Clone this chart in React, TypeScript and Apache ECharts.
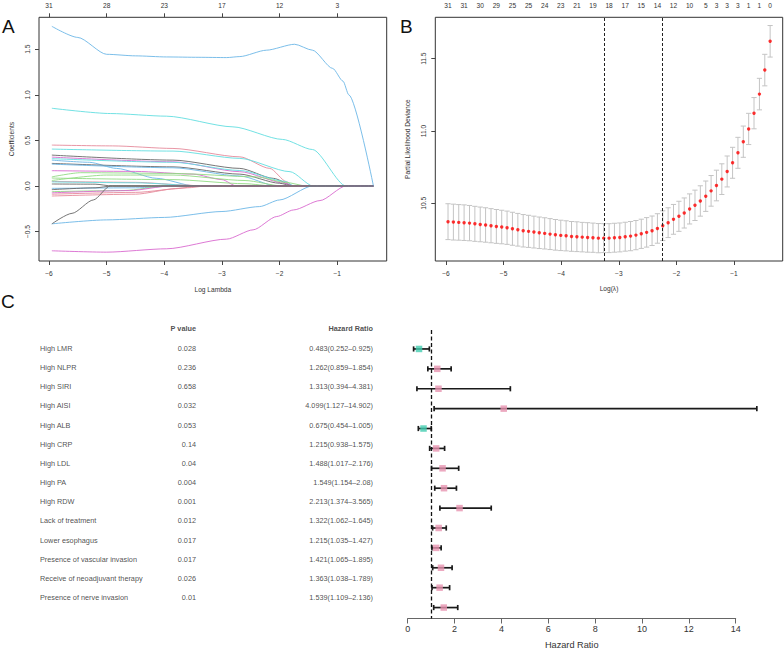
import React, { useEffect, useRef } from "react";
import * as echarts from "echarts";

const FONT = "'Liberation Sans', Arial, Helvetica, sans-serif";

// ---------------- Panel A : coefficient paths ----------------
const aTickValues = [-6, -5, -4, -3, -2, -1];
const aTopLabels = ["31", "28", "23", "17", "12", "3"];
const aYTicks = [-0.5, 0, 0.5, 1.0, 1.5];

const coefBlueTop = [[-5.95, 1.752], [-5.5, 1.63], [-5.0, 1.445], [-4.5, 1.428], [-3.96, 1.416], [-3.4, 1.412], [-2.92, 1.409], [-2.69, 1.42], [-2.23, 1.49], [-1.74, 1.555], [-1.43, 1.49], [-1.08, 1.29], [-0.9, 1.15], [-0.8, 1.0], [-0.373, 0]];
const coefCyanTop = [[-5.95, 0.853], [-4.93, 0.795], [-3.96, 0.766], [-2.81, 0.649], [-1.95, 0.511], [-1.43, 0.4], [-0.85, 0], [-0.373, 0]];
const coefBlueNeg = [[-5.95, -0.415], [-5.0, -0.372], [-4.0, -0.345], [-3.0, -0.28], [-2.35, -0.226], [-2.0, -0.153], [-1.43, 0], [-0.373, 0]];
const coefMagentaNeg = [[-5.95, -0.711], [-5.0, -0.726], [-3.96, -0.689], [-2.92, -0.583], [-2.46, -0.481], [-2.05, -0.335], [-1.76, -0.263], [-1.3, -0.16], [-0.85, 0], [-0.373, 0]];
const coefBlackNeg = [[-5.95, -0.416], [-5.6, -0.3], [-5.23, -0.153], [-4.94, 0], [-0.373, 0]];
const coefPink1 = [[-5.95, 0.449], [-4.9, 0.44], [-3.85, 0.412], [-2.69, 0.32], [-2.17, 0.193], [-1.88, 0.047], [-1.77, 0], [-0.373, 0]];
const coefCyan2 = [[-5.95, 0.405], [-3.85, 0.383], [-2.69, 0.303], [-1.82, 0.157], [-1.42, 0], [-0.373, 0]];
const coefBlack1 = [[-5.95, 0.339], [-3.85, 0.284], [-2.69, 0.193], [-2.11, 0.084], [-1.75, 0], [-0.373, 0]];
const coefMagenta1 = [[-5.95, 0.317], [-3.85, 0.266], [-2.69, 0.157], [-1.9, 0.03], [-1.77, 0], [-0.373, 0]];
const coefBlue1 = [[-5.95, 0.284], [-5.3, 0.26], [-4.83, 0.193], [-4.13, 0.084], [-3.47, 0], [-0.373, 0]];
const coefBlack2 = [[-5.95, 0.248], [-3.85, 0.21], [-2.69, 0.13], [-2.0, 0.03], [-1.77, 0], [-0.373, 0]];
const coefBlue2 = [[-5.95, 0.24], [-3.85, 0.2], [-2.69, 0.11], [-2.05, 0], [-0.373, 0]];
const coefCyan3 = [[-5.95, 0.3], [-3.85, 0.26], [-2.69, 0.17], [-1.9, 0.05], [-1.75, 0], [-0.373, 0]];
const coefMagenta2 = [[-5.95, 0.168], [-4.5, 0.16], [-3.5, 0.13], [-3.0, 0.07], [-2.75, 0], [-0.373, 0]];
const coefGreen1 = [[-5.95, 0.1], [-5.45, 0.146], [-3.85, 0.138], [-2.4, 0.1], [-1.9, 0.04], [-1.53, 0], [-0.373, 0]];
const coefGreen2 = [[-5.95, 0.087], [-3.85, 0.07], [-2.6, 0.025], [-2.11, 0], [-0.373, 0]];
const coefPink2 = [[-5.95, 0.05], [-4.5, 0.04], [-3.6, 0.01], [-3.4, 0], [-0.373, 0]];
const coefBlack3 = [[-5.95, 0.022], [-5.2, 0.02], [-4.9, 0], [-0.373, 0]];
const coefCyan4 = [[-5.95, 0.045], [-4.5, 0.035], [-3.3, 0], [-0.373, 0]];
const coefGreen3 = [[-5.95, 0.06], [-5.0, 0.12], [-3.85, 0.12], [-2.6, 0.06], [-1.95, 0], [-0.373, 0]];
const coefBlue3 = [[-5.95, -0.026], [-4.5, -0.02], [-3.8, 0], [-0.373, 0]];
const coefGreen4 = [[-5.95, -0.062], [-4.7, -0.05], [-3.96, 0], [-0.373, 0]];
const coefPink3 = [[-5.95, -0.09], [-4.5, -0.07], [-3.6, -0.02], [-3.27, 0], [-0.373, 0]];
const coefPink4 = [[-5.95, -0.11], [-4.5, -0.09], [-3.8, -0.03], [-3.4, 0], [-0.373, 0]];
const coefMagenta3 = [[-5.95, -0.075], [-4.6, -0.05], [-3.9, 0], [-0.373, 0]];
const coefBlack4 = [[-5.95, -0.04], [-5.2, -0.02], [-4.9, 0], [-0.373, 0]];

const coefPaths = [
  coefPink1, coefCyan2, coefBlack1, coefMagenta1, coefBlue1, coefBlack2, coefBlue2, coefCyan3,
  coefMagenta2, coefGreen1, coefGreen2, coefPink2, coefBlack3, coefCyan4, coefGreen3,
  coefBlue3, coefGreen4, coefPink3, coefPink4, coefMagenta3,
  coefBlueTop, coefCyanTop, coefBlueNeg, coefMagentaNeg, coefBlackNeg, coefBlack4,
];
const coefColorIdx = [1, 4, 0, 5, 3, 0, 3, 4, 5, 2, 2, 1, 0, 4, 2, 3, 2, 1, 1, 5, 3, 4, 3, 5, 0, 0];
const palette = ["#666666", "#E58A9B", "#92DA83", "#6CB7E6", "#62DEE0", "#D96ACF"];

// ---------------- Panel B : cross-validation ----------------
const cvLogLambda = [
  -5.965, -5.872, -5.779, -5.686, -5.592, -5.499, -5.406, -5.313, -5.219, -5.126,
  -5.033, -4.94, -4.847, -4.753, -4.66, -4.567, -4.474, -4.381, -4.287, -4.194,
  -4.101, -4.008, -3.915, -3.821, -3.728, -3.635, -3.542, -3.449, -3.355, -3.262,
  -3.169, -3.076, -2.983, -2.889, -2.796, -2.703, -2.61, -2.517, -2.423, -2.33,
  -2.237, -2.144, -2.051, -1.957, -1.864, -1.771, -1.678, -1.585, -1.491, -1.398,
  -1.305, -1.212, -1.119, -1.025, -0.932, -0.839, -0.746, -0.653, -0.559, -0.466,
  -0.373,
];
const cvMean = [
  10.373, 10.37, 10.368, 10.366, 10.363, 10.358, 10.354, 10.35, 10.345, 10.34,
  10.336, 10.331, 10.324, 10.317, 10.31, 10.306, 10.301, 10.296, 10.292, 10.287,
  10.282, 10.278, 10.275, 10.271, 10.269, 10.266, 10.264, 10.262, 10.259, 10.259,
  10.259, 10.262, 10.264, 10.269, 10.273, 10.28, 10.289, 10.299, 10.31, 10.326,
  10.345, 10.366, 10.389, 10.41, 10.433, 10.461, 10.486, 10.516, 10.549, 10.586,
  10.623, 10.667, 10.72, 10.78, 10.849, 10.926, 11.014, 11.123, 11.255, 11.421,
  11.62,
];
const cvSE = [
  0.124, 0.124, 0.123, 0.123, 0.122, 0.121, 0.12, 0.119, 0.118, 0.117,
  0.116, 0.115, 0.114, 0.113, 0.112, 0.111, 0.11, 0.109, 0.108, 0.107,
  0.106, 0.105, 0.104, 0.103, 0.103, 0.102, 0.102, 0.101, 0.101, 0.1,
  0.1, 0.1, 0.1, 0.1, 0.101, 0.101, 0.101, 0.102, 0.102, 0.102,
  0.103, 0.103, 0.103, 0.104, 0.104, 0.104, 0.105, 0.105, 0.105, 0.106,
  0.106, 0.106, 0.107, 0.107, 0.107, 0.108, 0.108, 0.108, 0.109, 0.109,
  0.109,
];
const cvTopIdx = [0, 3, 6, 9, 12, 15, 18, 21, 24, 27, 30, 33, 36, 39, 42, 45, 48, 50, 52, 54, 56, 58, 60];
const cvTopNz = [31, 31, 30, 29, 25, 25, 24, 23, 21, 19, 18, 17, 15, 14, 12, 10, 5, 3, 3, 3, 1, 1, 0];
const lambdaMinIdx = 29;
const lambda1seIdx = 40;
const bYTicks = [10.5, 11.0, 11.5];

// ---------------- Panel C : forest plot ----------------
const variables = [
  "High LMR", "High NLPR", "High SIRI", "High AISI", "High ALB", "High CRP", "High LDL",
  "High PA", "High RDW", "Lack of treatment", "Lower esophagus",
  "Presence of vascular invasion", "Receive of neoadjuvant therapy", "Presence of nerve invasion",
];
const pValues = ["0.028", "0.236", "0.658", "0.032", "0.053", "0.14", "0.04", "0.004", "0.001", "0.012", "0.017", "0.017", "0.026", "0.01"];
const hr = [0.483, 1.262, 1.313, 4.099, 0.675, 1.215, 1.488, 1.549, 2.213, 1.322, 1.215, 1.421, 1.363, 1.539];
const hrLow = [0.252, 0.859, 0.394, 1.127, 0.454, 0.938, 1.017, 1.154, 1.374, 1.062, 1.035, 1.065, 1.038, 1.109];
const hrHigh = [0.925, 1.854, 4.381, 14.902, 1.005, 1.575, 2.176, 2.08, 3.565, 1.645, 1.427, 1.895, 1.789, 2.136];
const hrText = ["0.483", "1.262", "1.313", "4.099", "0.675", "1.215", "1.488", "1.549", "2.213", "1.322", "1.215", "1.421", "1.363", "1.539"];
const hrTextLow = ["0.252", "0.859", "0.394", "1.127", "0.454", "0.938", "1.017", "1.154", "1.374", "1.062", "1.035", "1.065", "1.038", "1.109"];
const hrTextHigh = ["0.925", "1.854", "4.381", "14.902", "1.005", "1.575", "2.176", "2.08", "3.565", "1.645", "1.427", "1.895", "1.789", "2.136"];

const minus = (v: number, digits?: number) => {
  const s = digits === undefined ? String(Math.abs(v)) : Math.abs(v).toFixed(digits);
  return v < -1e-9 ? "\u2212" + s : s;
};

export default function App() {
  const ref = useRef<HTMLDivElement>(null);
  useEffect(() => {
    if (!ref.current) return;
    const chart = echarts.init(ref.current, null, { renderer: "svg" });

    const axisTxt = { fontFamily: FONT, color: "#333", fontSize: 6.6 };
    const boxAxisLine = { show: false, onZero: false };
    const tickStyle = { show: true, length: 4, lineStyle: { color: "#444", width: 1 } };

    const topBVals = cvTopIdx.map((i) => cvLogLambda[i]);

    const tRow0 = 348.3;
    const tStep = 19.18;
    const fRow0 = 349;
    const fStep = 19.94;
    const fGridTop = fRow0 - 0.95 * fStep;
    const fGridH = 14.5 * fStep;

    const labelSeries = (x: number, texts: string[], pos: "left" | "right", bold = false, rowOffset = 0) => ({
      type: "scatter",
      xAxisIndex: 5,
      yAxisIndex: 3,
      symbolSize: 0,
      silent: true,
      itemStyle: { color: "#222" },
      data: texts.map((_t, i) => [x, i + rowOffset]),
      label: {
        show: true,
        position: pos,
        distance: 0,
        formatter: (p: any) => texts[p.dataIndex],
        fontFamily: FONT,
        fontSize: 7.3,
        fontWeight: bold ? "bold" : "normal",
        color: "#222",
      },
    });

    const option: any = {
      animation: false,
      backgroundColor: "#fff",
      grid: [
        { left: 39, top: 17.3, width: 347.7, height: 243.7, show: true, borderColor: "#333", borderWidth: 1, backgroundColor: "transparent" },
        { left: 435.3, top: 17.3, width: 347.4, height: 243.7, show: true, borderColor: "#333", borderWidth: 1, backgroundColor: "transparent" },
        { left: 407.7, top: fGridTop, width: 328, height: fGridH, show: false },
        { left: 0, top: tRow0 - 1.5 * tStep, width: 784, height: 16 * tStep, show: false },
      ],
      xAxis: [
        {
          gridIndex: 0, type: "value", min: -6.173, max: -0.143, position: "bottom",
          axisLine: boxAxisLine, splitLine: { show: false },
          axisTick: { ...tickStyle, customValues: aTickValues },
          axisLabel: { ...axisTxt, margin: 9, customValues: aTickValues, formatter: (v: number) => minus(v) },
          name: "Log Lambda", nameLocation: "middle", nameGap: 24.5, nameTextStyle: { ...axisTxt },
        },
        {
          gridIndex: 0, type: "value", min: -6.173, max: -0.143, position: "top",
          axisLine: boxAxisLine, splitLine: { show: false },
          axisTick: { ...tickStyle, customValues: aTickValues },
          axisLabel: {
            ...axisTxt, margin: 8, customValues: aTickValues,
            formatter: (v: number) => {
              const k = aTickValues.findIndex((t) => Math.abs(t - v) < 1e-6);
              return k >= 0 ? aTopLabels[k] : "";
            },
          },
        },
        {
          gridIndex: 1, type: "value", min: -6.186, max: -0.155, position: "bottom",
          axisLine: boxAxisLine, splitLine: { show: false },
          axisTick: { ...tickStyle, customValues: aTickValues },
          axisLabel: { ...axisTxt, margin: 9, customValues: aTickValues, formatter: (v: number) => minus(v) },
          name: "Log(\u03bb)", nameLocation: "middle", nameGap: 24, nameTextStyle: { ...axisTxt },
        },
        {
          gridIndex: 1, type: "value", min: -6.186, max: -0.155, position: "top",
          axisLine: boxAxisLine, splitLine: { show: false },
          axisTick: { show: false },
          axisLabel: {
            ...axisTxt, margin: 8, customValues: topBVals,
            formatter: (v: number) => {
              const k = topBVals.findIndex((t) => Math.abs(t - v) < 1e-6);
              return k >= 0 ? String(cvTopNz[k]) : "";
            },
          },
        },
        {
          gridIndex: 2, type: "value", min: 0, max: 14, interval: 2, position: "bottom",
          axisLine: { show: true, onZero: false, lineStyle: { color: "#666", width: 1 } },
          axisTick: { show: true, length: 5, lineStyle: { color: "#666", width: 1 } },
          splitLine: { show: false },
          axisLabel: { fontFamily: FONT, fontSize: 9, color: "#333", margin: 6 },
          name: "Hazard Ratio", nameLocation: "middle", nameGap: 21.5,
          nameTextStyle: { fontFamily: FONT, fontSize: 9.2, color: "#333" },
        },
        { gridIndex: 3, type: "value", min: 0, max: 784, show: false, axisLine: { onZero: false } },
      ],
      yAxis: [
        {
          gridIndex: 0, type: "value", min: -0.823, max: 1.851,
          axisLine: boxAxisLine, splitLine: { show: false },
          axisTick: { ...tickStyle, customValues: aYTicks },
          axisLabel: { ...axisTxt, margin: 8.5, rotate: 90, customValues: aYTicks, formatter: (v: number) => minus(v, 1) },
          name: "Coefficients", nameLocation: "middle", nameGap: 24.5, nameRotate: 90, nameTextStyle: { ...axisTxt },
        },
        {
          gridIndex: 1, type: "value", min: 10.101, max: 11.786,
          axisLine: boxAxisLine, splitLine: { show: false },
          axisTick: { ...tickStyle, customValues: bYTicks },
          axisLabel: { ...axisTxt, margin: 8, rotate: 90, customValues: bYTicks, formatter: (v: number) => v.toFixed(1) },
          name: "Partial Likelihood Deviance", nameLocation: "middle", nameGap: 24.5, nameRotate: 90, nameTextStyle: { ...axisTxt },
        },
        { gridIndex: 2, type: "value", min: -0.95, max: 13.55, inverse: true, show: false, axisLine: { onZero: false } },
        { gridIndex: 3, type: "value", min: -1.5, max: 14.5, inverse: true, show: false, axisLine: { onZero: false } },
      ],
      graphic: [
        { type: "text", left: 2, top: 17, style: { text: "A", fontFamily: FONT, fontSize: 19, fill: "#111" } },
        { type: "text", left: 400, top: 17, style: { text: "B", fontFamily: FONT, fontSize: 19, fill: "#111" } },
        { type: "text", left: 1, top: 292, style: { text: "C", fontFamily: FONT, fontSize: 19, fill: "#111" } },
      ],
      series: [
        ...coefPaths.map((pts, k) => ({
          type: "line",
          xAxisIndex: 0,
          yAxisIndex: 0,
          data: pts,
          showSymbol: false,
          smooth: 0.25,
          smoothMonotone: "x",
          silent: true,
          lineStyle: { color: palette[coefColorIdx[k]], width: 0.9 },
        })),
        {
          type: "custom",
          xAxisIndex: 2,
          yAxisIndex: 1,
          silent: true,
          data: cvLogLambda.map((x, i) => [x, cvMean[i] - cvSE[i], cvMean[i] + cvSE[i]]),
          encode: { x: 0, y: [1, 2] },
          renderItem: (_p: any, api: any) => {
            const x = api.value(0);
            const a = api.coord([x, api.value(1)]);
            const b = api.coord([x, api.value(2)]);
            const w = 2.6;
            const style = { stroke: "#c4c4c4", lineWidth: 1 };
            return {
              type: "group",
              children: [
                { type: "line", shape: { x1: a[0], y1: a[1], x2: b[0], y2: b[1] }, style },
                { type: "line", shape: { x1: a[0] - w, y1: a[1], x2: a[0] + w, y2: a[1] }, style },
                { type: "line", shape: { x1: b[0] - w, y1: b[1], x2: b[0] + w, y2: b[1] }, style },
              ],
            };
          },
        },
        {
          type: "scatter",
          xAxisIndex: 2,
          yAxisIndex: 1,
          silent: true,
          symbolSize: 3.4,
          itemStyle: { color: "#ff0000" },
          data: cvLogLambda.map((x, i) => [x, cvMean[i]]),
          markLine: {
            silent: true,
            symbol: ["none", "none"],
            label: { show: false },
            lineStyle: { color: "#222", width: 1, type: [3, 2] },
            data: [{ xAxis: cvLogLambda[lambdaMinIdx] }, { xAxis: cvLogLambda[lambda1seIdx] }],
          },
        },
        {
          type: "custom",
          xAxisIndex: 4,
          yAxisIndex: 2,
          silent: true,
          data: hr.map((_h, i) => [hrLow[i], i, hrHigh[i]]),
          encode: { x: 0, y: 1 },
          renderItem: (_p: any, api: any) => {
            const row = api.value(1);
            const a = api.coord([api.value(0), row]);
            const b = api.coord([api.value(2), row]);
            const h = 2.6;
            const style = { stroke: "#1a1a1a", lineWidth: 1.7 };
            return {
              type: "group",
              children: [
                { type: "line", shape: { x1: a[0], y1: a[1], x2: b[0], y2: b[1] }, style },
                { type: "line", shape: { x1: a[0], y1: a[1] - h, x2: a[0], y2: a[1] + h }, style },
                { type: "line", shape: { x1: b[0], y1: b[1] - h, x2: b[0], y2: b[1] + h }, style },
              ],
            };
          },
        },
        {
          type: "scatter",
          xAxisIndex: 4,
          yAxisIndex: 2,
          silent: true,
          symbol: "rect",
          symbolSize: 6.5,
          z: 5,
          data: hr.map((h, i) => ({ value: [h, i], itemStyle: { color: h < 1 ? "#43CDB0" : "#E794B0" } })),
          markLine: {
            silent: true,
            symbol: ["none", "none"],
            label: { show: false },
            lineStyle: { color: "#111", width: 1.3, type: [4, 2.5] },
            data: [{ xAxis: 1 }],
          },
        },
        labelSeries(40, variables, "right"),
        labelSeries(196, pValues, "left"),
        labelSeries(373, hr.map((_h, i) => `${hrText[i]}(${hrTextLow[i]}\u2013${hrTextHigh[i]})`), "left"),
        labelSeries(196, ["P value"], "left", true, -1.05),
        labelSeries(373, ["Hazard Ratio"], "left", true, -1.05),
      ],
    };
    chart.setOption(option);
    return () => chart.dispose();
  }, []);
  return (
    <div
      ref={ref}
      style={{ position: "absolute", left: 0, top: 0, width: 784, height: 650, background: "#fff" }}
    />
  );
}
